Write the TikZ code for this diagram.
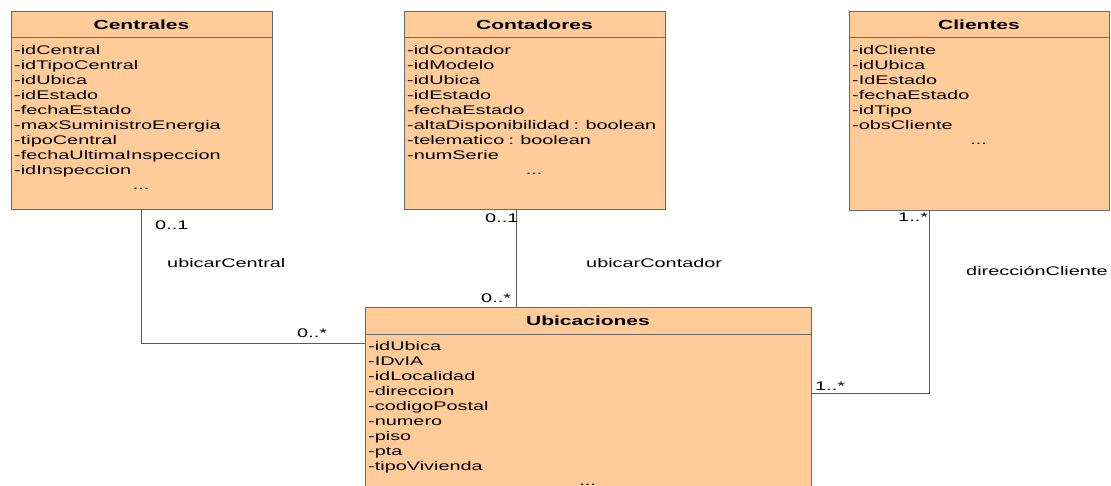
\documentclass[tikz,border=0pt]{standalone}
\usepackage{fontspec}
\setmainfont{Liberation Sans}[FakeStretch=1.59]
\usetikzlibrary{positioning}

\definecolor{classfill}{RGB}{255,204,153}
\definecolor{classline}{RGB}{105,105,105}
\newcommand{\umlfont}{\fontsize{12.5}{15}\selectfont}
\newcommand{\umldots}{\makebox[\linewidth]{...}}

\tikzset{
  classhead/.style={draw=classline, fill=classfill, line width=1pt, outer sep=0pt, inner sep=0pt, minimum height=26pt, font=\fontsize{13.2}{15}\selectfont\bfseries},
  classbody/.style={draw=classline, fill=classfill, line width=1pt, outer sep=0pt, inner sep=0pt},
  attrlist/.style={anchor=north west, align=left, inner sep=0pt, text width=#1, font=\umlfont},
  assoc/.style={draw=classline!85!black, line width=1pt},
  lbl/.style={anchor=west, inner sep=0pt, font=\umlfont},
}

\begin{document}
\begin{tikzpicture}[x=1pt, y=-1pt]
    \useasboundingbox (0,0) rectangle (1111,486);

    % Classes
    \node[classhead, minimum width=261pt] (centrales) at (141.5,25) {Centrales};
    \node[classbody, minimum width=261pt, minimum height=172pt, below=0pt of centrales] (centralesbody) {};
    \node[attrlist=254pt] (centralesattr) at ([shift={(3pt,-7pt)}]centralesbody.north west) {-idCentral\\-idTipoCentral\\-idUbica\\-idEstado\\-fechaEstado\\-maxSuministroEnergia\\-tipoCentral\\-fechaUltimaInspeccion\\-idInspeccion\\\umldots};

    \node[classhead, minimum width=261pt] (contadores) at (534.5,25) {Contadores};
    \node[classbody, minimum width=261pt, minimum height=172pt, below=0pt of contadores] (contadoresbody) {};
    \node[attrlist=254pt] (contadoresattr) at ([shift={(3pt,-7pt)}]contadoresbody.north west) {-idContador\\-idModelo\\-idUbica\\-idEstado\\-fechaEstado\\-altaDisponibilidad : boolean\\-telematico : boolean\\-numSerie\\\umldots};

    \node[classhead, minimum width=260pt] (clientes) at (979,25) {Clientes};
    \node[classbody, minimum width=260pt, minimum height=173pt, below=0pt of clientes] (clientesbody) {};
    \node[attrlist=253pt] (clientesattr) at ([shift={(3pt,-7pt)}]clientesbody.north west) {-idCliente\\-idUbica\\-IdEstado\\-fechaEstado\\-idTipo\\-obsCliente\\\umldots};

    \node[classhead, minimum width=446pt] (ubicaciones) at (588,321) {Ubicaciones};
    \node[classbody, minimum width=446pt, minimum height=170pt, below=0pt of ubicaciones] (ubicacionesbody) {};
    \node[attrlist=439pt] (ubicacionesattr) at ([shift={(3pt,-7pt)}]ubicacionesbody.north west) {-idUbica\\-IDvIA\\-idLocalidad\\-direccion\\-codigoPostal\\-numero\\-piso\\-pta\\-tipoVivienda\\\umldots};

    % Associations
    \draw[assoc] (centralesbody.south) |- ([yshift=-9pt]ubicacionesbody.north west);
    \draw[assoc] ([xshift=-18.5pt]contadoresbody.south) -- ([xshift=-18.5pt]contadoresbody.south |- ubicaciones.north);
    \draw[assoc] ([xshift=-50pt]clientesbody.south) |- ([yshift=-59pt]ubicacionesbody.north east);

    % Multiplicities and names
    \node[lbl] (mcentral) at (155,225) {0..1};
    \node[lbl] (ncentral) at (167,263) {ubicarCentral};
    \node[lbl] (mubicentral) at (297,333) {0..*};
    \node[lbl] (mcontador) at (485,218) {0..1};
    \node[lbl] (mubicontador) at (481,298) {0..*};
    \node[lbl] (ncontador) at (586,263) {ubicarContador};
    \node[lbl] (mcliente) at (898,217) {1..*};
    \node[lbl] (ncliente) at (966,271) {direcciónCliente};
    \node[lbl] (mubicliente) at (815,386) {1..*};
\end{tikzpicture}
\end{document}
